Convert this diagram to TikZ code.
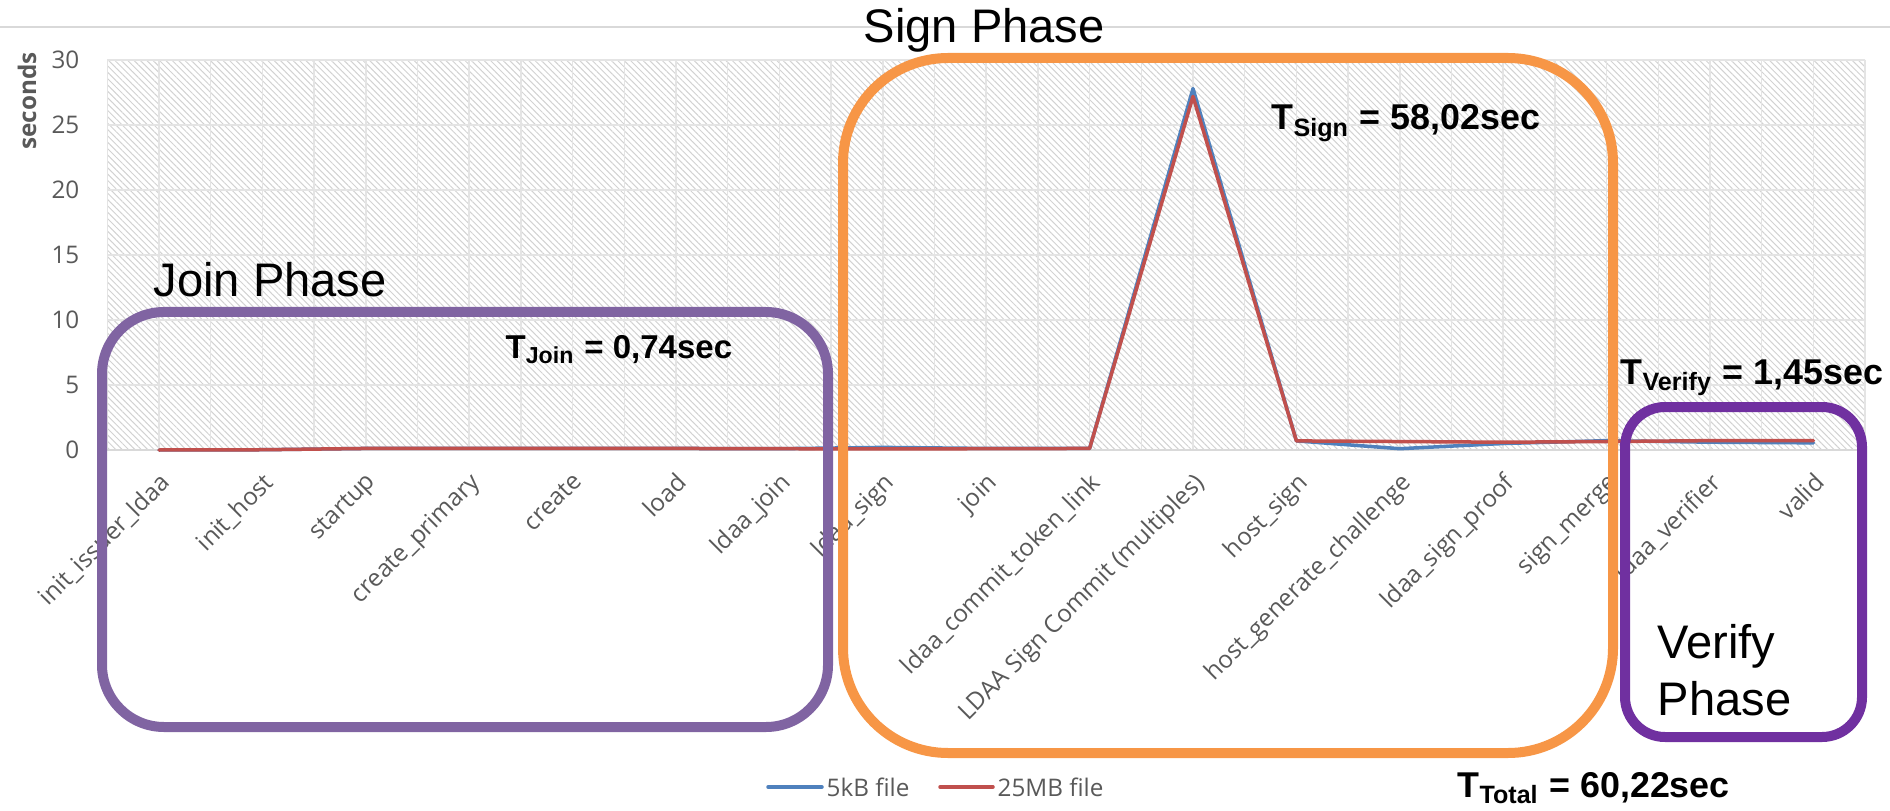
\documentclass[tikz,border=0pt]{standalone}
\usepackage{fontspec}
\setmainfont{Liberation Sans}
\newfontfamily\chartfont{Open Sans}
\usetikzlibrary{patterns.meta}

\definecolor{joinpurple}{HTML}{8064A2}
\definecolor{verifypurple}{HTML}{7030A0}
\definecolor{signorange}{HTML}{F79646}
\definecolor{smallfile}{HTML}{4F81BD}
\definecolor{bigfile}{HTML}{C0504D}
\definecolor{axisgray}{HTML}{595959}
\definecolor{gridgray}{HTML}{E4E4E4}
\definecolor{rulegray}{HTML}{D9D9D9}
\definecolor{hatchgray}{HTML}{D2D2D2}

\tikzset{
  phase box/.style={line width=1mm, rounded corners=#1},
  phase label/.style={anchor=base west, inner sep=0pt, font=\fontsize{13.4}{16}\selectfont},
  time label/.style={anchor=base west, inner sep=0pt, font=\bfseries\fontsize{#1}{12}\selectfont},
  time label/.default=10.2,
  chart text/.style={text=axisgray, font=\chartfont\fontsize{6.9}{8.5}\selectfont},
  tick label/.style={chart text, anchor=east, inner sep=0pt},
  cat label/.style={chart text, anchor=north east, rotate=45, inner sep=0pt},
  legend label/.style={chart text, anchor=west, inner sep=0.4mm},
  grid line/.style={gridgray, line width=0.15mm},
  series/.style={line width=0.35mm, line join=round, line cap=round},
}

\begin{document}
\begin{tikzpicture}[x=0.1mm, y=-0.1mm]
  \useasboundingbox (0,0) rectangle (1890,811);

  % rule across the top
  \draw[rulegray, line width=0.2mm] (0,27) -- (1890,27);

  % plot area, hatched, with grid
  \fill[pattern={Lines[angle=-45, distance=0.45mm, line width=0.1mm]}, pattern color=hatchgray]
    (107,60) rectangle (1865,450);
  \foreach \y in {60,125,190,255,320,385}
    \draw[grid line] (107,\y) -- (1865,\y);
  \foreach \k in {0,...,34}
    \draw[grid line] ({107.3+51.7*\k},60) -- ({107.3+51.7*\k},450);
  \draw[rulegray, line width=0.2mm] (107,450) -- (1865,450);

  % value axis
  \foreach \v [count=\n] in {0,5,...,30}
    \node[tick label] (tick\n) at (80,{450-13*\v}) {\v};
  \node[chart text, font=\chartfont\bfseries\fontsize{6.9}{8.5}\selectfont, rotate=90] (seconds) at (27,101) {seconds};

  % one unit per step, one unit per second
  \begin{scope}[shift={(159,450)}, x=10.34mm, y=1.3mm]
    \draw[series, smallfile] (0,0) -- (1,0.02) -- (2,0.12) -- (3,0.12) -- (4,0.12) -- (5,0.12)
      -- (6,0.1) -- (7,0.2) -- (8,0.12) -- (9,0.12) -- (10,27.8) -- (11,0.7) -- (12,0.1)
      -- (13,0.5) -- (14,0.72) -- (15,0.6) -- (16,0.55);
    \draw[series, bigfile] (0,0) -- (1,0.02) -- (2,0.12) -- (3,0.12) -- (4,0.12) -- (5,0.12)
      -- (6,0.1) -- (7,0.08) -- (8,0.1) -- (9,0.12) -- (10,27.2) -- (11,0.7) -- (12,0.65)
      -- (13,0.6) -- (14,0.65) -- (15,0.72) -- (16,0.72);

    \foreach \name [count=\i from 0] in {init\_issuer\_ldaa, init\_host, startup, create\_primary,
        create, load, ldaa\_join, ldaa\_sign, join, ldaa\_commit\_token\_link,
        {LDAA Sign Commit (multiples)}, host\_sign, host\_generate\_challenge,
        ldaa\_sign\_proof, sign\_merge, ldaa\_verifier, valid}
      \node[cat label, xshift=-0.1mm] (cat\i) at (\i,-1.5) {\name};
  \end{scope}

  % legend
  \coordinate (key small) at (768,787);
  \node[legend label] (lab small) at (822,787) {5kB file};
  \draw[series, smallfile] (key small) -- (lab small.west);
  \coordinate (key big) at (940,787);
  \node[legend label] (lab big) at (993,787) {25MB file};
  \draw[series, bigfile] (key big) -- (lab big.west);

  % phases
  \draw[phase box=6.2mm, joinpurple] (102,312) rectangle (828,727);
  \draw[phase box=10.5mm, signorange] (843,58) rectangle (1613,753);
  \draw[phase box=4mm, verifypurple] (1625,407) rectangle (1862,737);

  \node[phase label] (join phase) at (153,297) {Join Phase};
  \node[phase label] (sign phase) at (863,43) {Sign Phase};
  \node[phase label, align=left] (verify phase) at (1657,715) {Verify\\Phase};

  % times
  \node[time label=9.4] (t join) at (505,358) {T\textsubscript{Join} = 0,74sec};
  \node[time label] (t sign) at (1271,130) {T\textsubscript{Sign} = 58,02sec};
  \node[time label] (t verify) at (1620,384) {T\textsubscript{Verify} = 1,45sec};
  \node[time label] (t total) at (1457,797) {T\textsubscript{Total} = 60,22sec};
\end{tikzpicture}
\end{document}
